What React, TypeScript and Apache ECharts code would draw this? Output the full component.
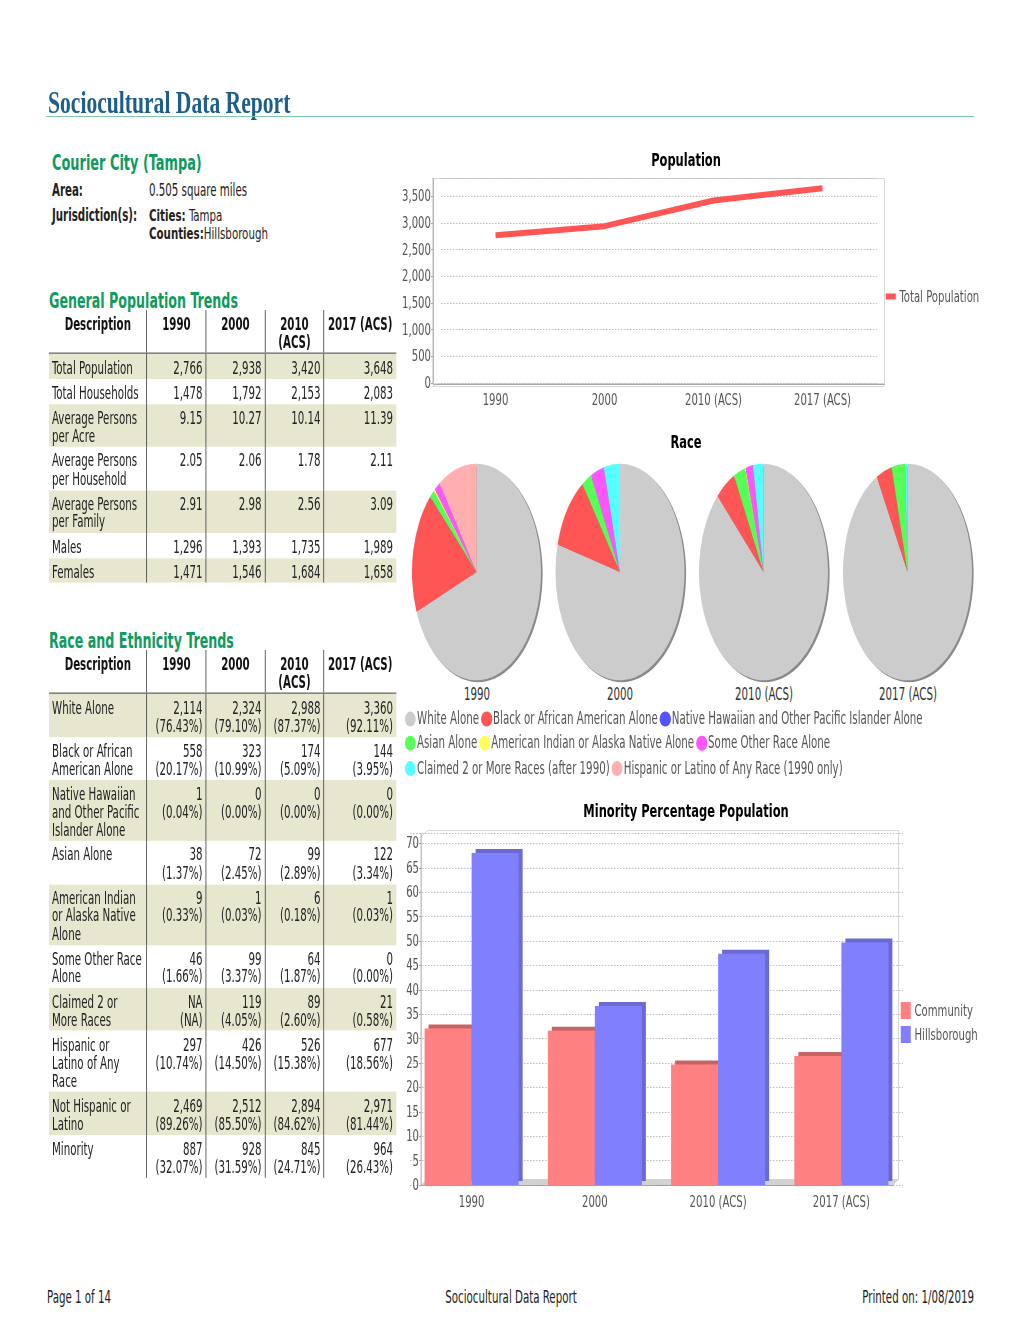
import React, { useEffect, useRef } from "react";
import * as echarts from "echarts";

const FONT = '"DejaVu Sans Condensed", "DejaVu Sans", sans-serif';
const SERIF = '"Liberation Serif", "DejaVu Serif", serif';

// ---------- data ----------
const years = ["1990", "2000", "2010 (ACS)", "2017 (ACS)"];
const headerYears = ["1990", "2000", "2010\n(ACS)", "2017 (ACS)"];

const totalPopulation = [2766, 2938, 3420, 3648];
const totalHouseholds = [1478, 1792, 2153, 2083];
const personsPerAcre = ["9.15", "10.27", "10.14", "11.39"];
const personsPerHousehold = ["2.05", "2.06", "1.78", "2.11"];
const personsPerFamily = ["2.91", "2.98", "2.56", "3.09"];
const males = [1296, 1393, 1735, 1989];
const females = [1471, 1546, 1684, 1658];

const whiteAlone = [2114, 2324, 2988, 3360];
const whitePct = [76.43, 79.1, 87.37, 92.11];
const blackAlone = [558, 323, 174, 144];
const blackPct = [20.17, 10.99, 5.09, 3.95];
const hawaiianAlone = [1, 0, 0, 0];
const hawaiianPct = [0.04, 0, 0, 0];
const asianAlone = [38, 72, 99, 122];
const asianPct = [1.37, 2.45, 2.89, 3.34];
const amIndianAlone = [9, 1, 6, 1];
const amIndianPct = [0.33, 0.03, 0.18, 0.03];
const otherRace = [46, 99, 64, 0];
const otherPct = [1.66, 3.37, 1.87, 0.0];
const twoOrMore = [null, 119, 89, 21];
const twoOrMorePct = [null, 4.05, 2.6, 0.58];
const hispanic = [297, 426, 526, 677];
const hispanicPct = [10.74, 14.5, 15.38, 18.56];
const notHispanic = [2469, 2512, 2894, 2971];
const notHispanicPct = [89.26, 85.5, 84.62, 81.44];
const minority = [887, 928, 845, 964];
const minorityPct = [32.07, 31.59, 24.71, 26.43];

const minorityCommunity = [32.07, 31.59, 24.71, 26.43];
const minorityHillsborough = [68.0, 36.7, 47.4, 49.7];

const raceLegendLabels = [
  "White Alone",
  "Black or African American Alone",
  "Native Hawaiian and Other Pacific Islander Alone",
  "Asian Alone",
  "American Indian or Alaska Native Alone",
  "Some Other Race Alone",
  "Claimed 2 or More Races (after 1990)",
  "Hispanic or Latino of Any Race (1990 only)",
];
const raceColors = ["#CCCCCC", "#FF5555", "#5555FF", "#55FF55", "#FFFF55", "#FF55FF", "#55FFFF", "#FFAFAF"];
const raceSeriesValues = [
  whiteAlone,
  blackAlone,
  hawaiianAlone,
  asianAlone,
  amIndianAlone,
  otherRace,
  twoOrMore,
  hispanic.map((v, i) => (i === 0 ? v : null)),
];
const raceLegendRows = [[0, 1, 2], [3, 4, 5], [6, 7]];

// ---------- helpers ----------
const fmt = (v: number | null) => (v === null ? "NA" : v.toLocaleString("en-US"));
const fmtPct = (v: number | null) => (v === null ? "(NA)" : `(${v.toFixed(2)}%)`);
const pair = (vals: (number | null)[], pcts: (number | null)[]) =>
  vals.map((v, i) => `${fmt(v)}\n${fmtPct(pcts[i])}`);

const generalRows = [
  { label: "Total Population", values: totalPopulation.map(fmt) },
  { label: "Total Households", values: totalHouseholds.map(fmt) },
  { label: "Average Persons\nper Acre", values: personsPerAcre },
  { label: "Average Persons\nper Household", values: personsPerHousehold },
  { label: "Average Persons\nper Family", values: personsPerFamily },
  { label: "Males", values: males.map(fmt) },
  { label: "Females", values: females.map(fmt) },
];

const raceRows = [
  { label: "White Alone", values: pair(whiteAlone, whitePct) },
  { label: "Black or African\nAmerican Alone", values: pair(blackAlone, blackPct) },
  { label: "Native Hawaiian\nand Other Pacific\nIslander Alone", values: pair(hawaiianAlone, hawaiianPct) },
  { label: "Asian Alone", values: pair(asianAlone, asianPct) },
  { label: "American Indian\nor Alaska Native\nAlone", values: pair(amIndianAlone, amIndianPct) },
  { label: "Some Other Race\nAlone", values: pair(otherRace, otherPct) },
  { label: "Claimed 2 or\nMore Races", values: pair(twoOrMore, twoOrMorePct) },
  { label: "Hispanic or\nLatino of Any\nRace", values: pair(hispanic, hispanicPct) },
  { label: "Not Hispanic or\nLatino", values: pair(notHispanic, notHispanicPct) },
  { label: "Minority", values: pair(minority, minorityPct) },
];

// HTML text squeeze (the report uses a tall, narrow face)
const HX = 0.76;
const HY = 1.15;

function T({ x, y, align = "left", sx = HX, sy = HY, style = {}, children }: any) {
  const tx = align === "center" ? "-50%" : align === "right" ? "-100%" : "0";
  const ox = align === "center" ? "center" : align === "right" ? "right" : "left";
  return (
    <div
      style={{
        position: "absolute",
        left: x,
        top: y,
        transform: `translate(${tx}, -50%) scale(${sx}, ${sy})`,
        transformOrigin: `${ox} center`,
        whiteSpace: "nowrap",
        lineHeight: 1,
        fontFamily: FONT,
        fontSize: 15,
        color: "#222",
        ...style,
      }}
    >
      {children}
    </div>
  );
}

function DataTable({ top, rows }: any) {
  const colW = [98, 59, 59, 59, 72].map((w) => w / HX);
  const line = "1.3px solid #333";
  const padTop = 6 / HY;
  const padBot = 1 / HY;
  return (
    <div
      style={{
        position: "absolute",
        left: 49,
        top,
        transform: `scale(${HX}, ${HY})`,
        transformOrigin: "left top",
      }}
    >
      <table
        style={{
          width: 347 / HX,
          borderCollapse: "collapse",
          tableLayout: "fixed",
          fontFamily: FONT,
          fontSize: 15,
          lineHeight: `${18 / HY}px`,
          color: "#222",
        }}
      >
        <colgroup>
          {colW.map((w, i) => (
            <col key={i} style={{ width: w }} />
          ))}
        </colgroup>
        <thead>
          <tr>
            {["Description", ...headerYears].map((h, i) => (
              <th
                key={i}
                style={{
                  padding: `${padTop}px 0 ${padBot}px 0`,
                  verticalAlign: "top",
                  textAlign: "center",
                  whiteSpace: "pre",
                  fontWeight: "bold",
                  color: "#111",
                  borderLeft: i > 0 ? line : "none",
                  borderBottom: "1.8px solid #555",
                }}
              >
                {h}
              </th>
            ))}
          </tr>
        </thead>
        <tbody>
          {rows.map((r: any, ri: number) => (
            <tr key={ri} style={{ background: ri % 2 === 0 ? "#E7E7CF" : "#FFFFFF" }}>
              <td
                style={{
                  padding: `${padTop}px 2px ${padBot}px ${3 / HX}px`,
                  verticalAlign: "top",
                  whiteSpace: "pre",
                }}
              >
                {r.label}
              </td>
              {r.values.map((v: string, ci: number) => (
                <td
                  key={ci}
                  style={{
                    padding: `${padTop}px ${3 / HX}px ${padBot}px 0`,
                    verticalAlign: "top",
                    whiteSpace: "pre",
                    textAlign: "right",
                    borderLeft: line,
                  }}
                >
                  {v}
                </td>
              ))}
            </tr>
          ))}
        </tbody>
      </table>
    </div>
  );
}

// chart canvas squeezed horizontally the same way
const CX = 0.75;
const u = (x: number) => x / CX;

const pieCenters = [76.5, 220, 363.5, 507.5];
const pieRadius = 64.5;

export default function App() {
  const mainRef = useRef<HTMLDivElement>(null);
  const pieRef = useRef<HTMLDivElement>(null);

  useEffect(() => {
    const chart = echarts.init(mainRef.current!, null, { renderer: "svg" });
    const axisLabel = { color: "#555", fontSize: 15, fontFamily: FONT };
    const split = { show: true, lineStyle: { color: "#b5b5b5", type: [2, 2], width: 1 } };
    const titleStyle = { textAlign: "center", textVerticalAlign: "middle", fontFamily: FONT, fontSize: 17, fontWeight: "bold", fill: "#000" };
    chart.setOption({
      animation: false,
      textStyle: { fontFamily: FONT },
      grid: [
        { left: u(441), top: 178, width: u(436), height: 205 },
        { left: u(410), top: 833.6, width: u(493), height: 351.4 },
      ],
      xAxis: [
        {
          gridIndex: 0,
          type: "category",
          data: years,
          axisLine: { show: false },
          axisTick: { show: false },
          axisLabel: { ...axisLabel, margin: 9 },
        },
        {
          gridIndex: 1,
          type: "category",
          data: years,
          axisLine: { show: false },
          axisTick: { show: false },
          axisLabel: { ...axisLabel, margin: 9 },
        },
      ],
      yAxis: [
        {
          gridIndex: 0,
          type: "value",
          min: 0,
          max: 3840,
          interval: 500,
          offset: u(8),
          axisLine: { show: true, lineStyle: { color: "#999" } },
          axisTick: { show: true, length: u(2), lineStyle: { color: "#999" } },
          axisLabel: {
            ...axisLabel,
            margin: u(2),
            showMaxLabel: false,
            formatter: (v: number) => v.toLocaleString("en-US"),
          },
          splitLine: split,
        },
        {
          gridIndex: 1,
          type: "value",
          min: 0,
          max: 72,
          interval: 5,
          offset: u(-11),
          axisLine: { show: true, lineStyle: { color: "#999" } },
          axisTick: { show: true, length: u(2), lineStyle: { color: "#999" } },
          axisLabel: { ...axisLabel, margin: u(2), showMaxLabel: false },
          splitLine: split,
        },
      ],
      legend: [
        {
          data: ["Total Population"],
          left: u(882),
          top: 284,
          orient: "vertical",
          icon: "rect",
          itemWidth: u(10),
          itemHeight: 6,
          itemGap: 0,
          textStyle: { fontSize: 15, color: "#555", fontFamily: FONT },
        },
        {
          data: ["Community", "Hillsborough"],
          left: u(897),
          top: 997,
          orient: "vertical",
          icon: "rect",
          itemWidth: u(10),
          itemHeight: 17,
          itemGap: 7,
          textStyle: { fontSize: 15, color: "#555", fontFamily: FONT },
        },
      ],
      series: [
        {
          type: "line",
          name: "Total Population",
          xAxisIndex: 0,
          yAxisIndex: 0,
          data: totalPopulation,
          symbol: "none",
          lineStyle: { color: "#FF5555", width: 6 },
          itemStyle: { color: "#FF5555" },
          silent: true,
        },
        {
          type: "bar",
          name: "Community",
          xAxisIndex: 1,
          yAxisIndex: 1,
          data: minorityCommunity,
          barGap: "0%",
          barCategoryGap: "23.7%",
          silent: true,
          itemStyle: { color: "#FF8080", shadowColor: "#C86464", shadowOffsetX: u(4), shadowOffsetY: -4, shadowBlur: 0 },
        },
        {
          type: "bar",
          name: "Hillsborough",
          xAxisIndex: 1,
          yAxisIndex: 1,
          data: minorityHillsborough,
          barGap: "0%",
          barCategoryGap: "23.7%",
          silent: true,
          itemStyle: { color: "#8080FF", shadowColor: "#6A6AD2", shadowOffsetX: u(4), shadowOffsetY: -4, shadowBlur: 0 },
        },
      ],
      graphic: [
        { type: "text", x: u(686), y: 160, style: { ...titleStyle, text: "Population" } },
        { type: "text", x: u(686), y: 442, style: { ...titleStyle, text: "Race" } },
        { type: "text", x: u(686), y: 811, style: { ...titleStyle, text: "Minority Percentage Population" } },
        {
          type: "rect",
          shape: { x: u(433.5), y: 178.5, width: u(451), height: 205 },
          style: { fill: "none", stroke: "#cfcfcf", lineWidth: 1 },
          z: 0,
        },
        { type: "line", shape: { x1: u(433), y1: 384.5, x2: u(885), y2: 384.5 }, style: { stroke: "#999", lineWidth: 1 } },
        { type: "line", shape: { x1: u(433), y1: 386.5, x2: u(885), y2: 386.5 }, style: { stroke: "#d0d0d0", lineWidth: 1 } },
        {
          type: "polygon",
          shape: { points: [[u(421), 1185], [u(893), 1185], [u(899), 1179], [u(427), 1179]] },
          style: { fill: "#d2d2d2" },
          z: 0,
        },
        {
          type: "polyline",
          shape: { points: [[u(421), 837], [u(427.5), 830.5], [u(898.5), 830.5], [u(898.5), 1179], [u(893), 1185]] },
          style: { fill: "none", stroke: "#cfcfcf", lineWidth: 1 },
          z: 0,
        },
        { type: "line", shape: { x1: u(421), y1: 1185.5, x2: u(893), y2: 1185.5 }, style: { stroke: "#999", lineWidth: 1 }, z: 5 },
      ],
    });

    const pie = echarts.init(pieRef.current!, null, { renderer: "svg" });
    pie.setOption({
      animation: false,
      graphic: pieCenters.map((cx) => ({
        type: "circle",
        shape: { cx: cx + 1.6, cy: 71.1, r: pieRadius },
        style: { fill: "#8a8a8a" },
        z: 0,
        silent: true,
      })),
      series: years.map((y, i) => ({
        type: "pie",
        name: y,
        center: [pieCenters[i], 70],
        radius: pieRadius,
        startAngle: 90,
        clockwise: true,
        silent: true,
        z: 2,
        label: { show: false },
        labelLine: { show: false },
        emphasis: { disabled: true },
        itemStyle: { borderWidth: 0 },
        data: raceLegendLabels.map((name, k) => ({
          name,
          value: raceSeriesValues[k][i],
          itemStyle: { color: raceColors[k] },
        })),
      })),
    });

    return () => {
      chart.dispose();
      pie.dispose();
    };
  }, []);

  const heading = { fontSize: 19, fontWeight: "bold", color: "#0f9a5e" };

  return (
    <div style={{ position: "absolute", left: 0, top: 0, width: 1020, height: 1320, background: "#fff", overflow: "hidden" }}>
      <div
        ref={mainRef}
        style={{
          position: "absolute",
          left: 0,
          top: 0,
          width: u(1020),
          height: 1320,
          transform: `scaleX(${CX})`,
          transformOrigin: "left top",
        }}
      />
      <div
        ref={pieRef}
        style={{
          position: "absolute",
          left: 400,
          top: 502,
          width: 580,
          height: 140,
          transform: "scaleY(1.68)",
          transformOrigin: "center center",
        }}
      />

      {/* header */}
      <div
        style={{
          position: "absolute",
          left: 48,
          top: 86,
          fontFamily: SERIF,
          fontWeight: "bold",
          fontSize: 32,
          lineHeight: 1,
          color: "#1d5e8d",
          whiteSpace: "nowrap",
          transform: "scaleX(0.675)",
          transformOrigin: "left top",
        }}
      >
        Sociocultural Data Report
      </div>
      <div style={{ position: "absolute", left: 46, top: 115.5, width: 928, height: 1.5, background: "#7fcaa9" }} />

      <T x={52} y={163} sx={0.755} sy={1.1} style={heading}>
        Courier City (Tampa)
      </T>
      <T x={52} y={191} style={{ fontWeight: "bold" }}>Area:</T>
      <T x={149} y={191}>0.505 square miles</T>
      <T x={52} y={216} style={{ fontWeight: "bold" }}>Jurisdiction(s):</T>
      <T x={149} y={216} sx={HX * 15 / 14.5} sy={1.04} style={{ fontSize: 14.5 }}>
        <b>Cities:</b> Tampa
      </T>
      <T x={149} y={234} sx={HX * 15 / 14.5} sy={1.04} style={{ fontSize: 14.5 }}>
        <b>Counties:</b>Hillsborough
      </T>

      <T x={49} y={301} sx={0.74} sy={1.1} style={heading}>
        General Population Trends
      </T>
      <DataTable top={310} rows={generalRows} />

      <T x={49} y={641} sx={0.74} sy={1.1} style={heading}>
        Race and Ethnicity Trends
      </T>
      <DataTable top={650} rows={raceRows} />

      {/* pie year labels */}
      {years.map((y, i) => (
        <T key={y} x={400 + pieCenters[i]} y={695} align="center" style={{ color: "#333" }}>
          {y}
        </T>
      ))}

      {/* race legend */}
      <div
        style={{
          position: "absolute",
          left: 405,
          top: 707,
          transform: `scale(${HX}, ${HY})`,
          transformOrigin: "left top",
        }}
      >
        {raceLegendRows.map((row, r) => (
          <div key={r} style={{ display: "flex", alignItems: "center", height: 24.5 / HY }}>
            {row.map((k) => (
              <div key={k} style={{ display: "flex", alignItems: "center", marginRight: 2 / HX }}>
                <span
                  style={{
                    display: "inline-block",
                    width: 11 / HX,
                    height: 15 / HY,
                    borderRadius: "50%",
                    background: raceColors[k],
                    marginRight: 1 / HX,
                  }}
                />
                <span
                  style={{
                    display: "inline-block",
                    fontFamily: FONT,
                    fontSize: 15,
                    lineHeight: 1,
                    color: "#555",
                    whiteSpace: "nowrap",
                  }}
                >
                  {raceLegendLabels[k]}
                </span>
              </div>
            ))}
          </div>
        ))}
      </div>

      {/* footer */}
      <T x={47} y={1298}>Page 1 of 14</T>
      <T x={511} y={1298} align="center">Sociocultural Data Report</T>
      <T x={974} y={1298} align="right">Printed on: 1/08/2019</T>
    </div>
  );
}
